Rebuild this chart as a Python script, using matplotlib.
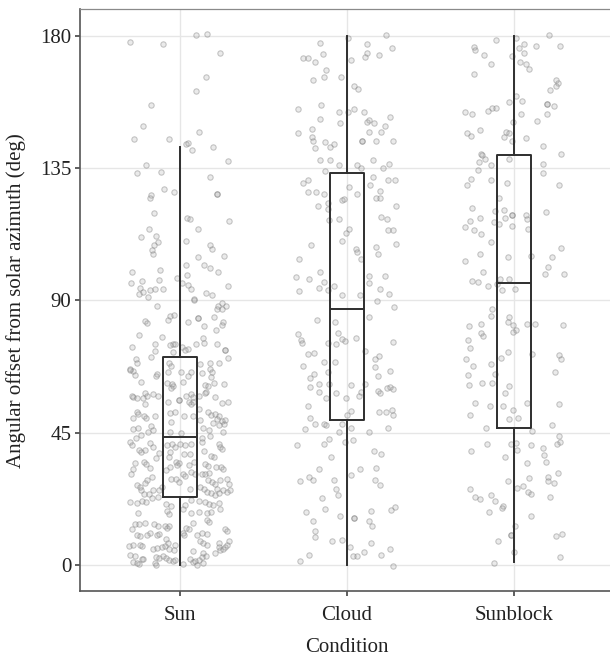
import numpy as np
import matplotlib
matplotlib.use("Agg")
import matplotlib.pyplot as plt

plt.rcParams['font.family'] = ['Liberation Serif', 'DejaVu Serif']

categories = ['Sun', 'Cloud', 'Sunblock']
y_ticks = [0, 45, 90, 135, 180]

# box statistics (deg)
box_q1 = [23.0, 49.2, 46.6]
box_med = [43.6, 86.9, 96.0]
box_q3 = [70.7, 133.2, 139.6]
box_lo = [0.0, 0.0, 0.9]
box_hi = [142.0, 180.0, 180.0]

# jittered observations: (horizontal jitter, angle in deg)
sun_points = [
    (-0.297, 178.0), (-0.10, 177.3), (0.096, 180.1), (0.164, 180.5), (0.238, 174.0), (0.154, 165.9),
    (0.098, 161.1), (-0.174, 156.5), (-0.22, 149.2), (-0.277, 145.0), (-0.068, 145.0), (0.116, 147.2),
    (0.036, 143.2), (0.05, 143.4), (0.072, 141.1), (0.198, 142.0), (0.29, 137.3), (-0.204, 136.1),
    (-0.255, 133.4), (-0.112, 133.8), (0.182, 132.0), (-0.096, 128.0), (-0.036, 127.0), (-0.174, 125.9),
    (-0.182, 124.8), (0.224, 126.1), (0.224, 126.1), (-0.154, 119.8), (0.044, 118.1), (0.062, 117.6),
    (0.293, 117.0), (0.106, 114.2), (-0.184, 114.3), (-0.232, 111.7), (-0.146, 111.9), (-0.13, 109.9),
    (-0.158, 109.0), (-0.17, 107.0), (-0.16, 105.8), (0.036, 110.1), (0.182, 108.9), (0.19, 107.6),
    (0.11, 104.8), (0.263, 105.2), (-0.285, 99.8), (-0.118, 100.2), (0.036, 102.2), (0.144, 101.9),
    (0.182, 100.9), (0.228, 99.8), (0.042, 98.8), (-0.226, 96.7), (-0.126, 96.9), (-0.016, 97.5),
    (0.012, 95.8), (-0.291, 95.9), (0.05, 95.1), (0.064, 94.0), (0.285, 95.0), (-0.24, 94.3),
    (-0.224, 92.8), (-0.246, 92.0), (-0.19, 91.3), (-0.18, 93.4), (-0.148, 93.75), (-0.1, 93.75),
    (0.154, 92.6), (0.19, 91.9), (0.086, 90.6),
    (-0.136, 88.1), (0.084, 90.0), (0.23, 88.1), (0.22, 87.2), (0.25, 89.0), (0.275, 88.2), (0.25, 87.0),
    (-0.06, 84.7), (-0.036, 84.9), (-0.072, 83.3), (-0.21, 83.1), (-0.2, 82.2), (0.11, 84.0), (0.11, 84.0),
    (0.048, 82.6), (0.146, 81.3), (0.206, 84.4), (0.255, 82.7), (0.25, 81.7), (0.214, 79.9), (-0.248, 78.2),
    (-0.108, 77.6), (0.136, 77.2), (-0.287, 74.2), (-0.148, 75.2), (-0.058, 74.7), (-0.044, 75.1),
    (-0.032, 75.3), (0.096, 75.1), (0.144, 75.6), (0.224, 75.3), (0.012, 74.0), (0.028, 73.1), (0.048, 73.3),
    (-0.148, 72.7), (-0.04, 72.4), (0.267, 73.1), (0.267, 73.1), (0.29, 70.3), (-0.263, 69.9), (-0.255, 68.75),
    (-0.172, 70.8), (0.18, 68.75), (0.236, 68.75), (-0.3, 66.8), (-0.068, 68.75), (-0.056, 67.6), (0.12, 68.2),
    (0.18, 66.8),
    (-0.28, 65.9), (-0.268, 64.7), (-0.3, 66.3), (-0.14, 64.9), (-0.144, 64.2), (-0.236, 62.2), (-0.072, 65.6),
    (0.004, 65.8), (0.048, 64.2), (0.064, 65.6), (0.02, 62.2), (-0.08, 61.9), (-0.048, 61.5), (-0.056, 60.1),
    (-0.04, 61.0), (0.132, 65.3), (0.19, 65.6), (0.188, 64.0), (0.152, 61.3), (0.168, 60.8), (0.204, 61.9),
    (0.156, 59.0), (0.263, 61.5), (-0.28, 57.2), (-0.26, 56.9), (-0.29, 57.4), (-0.208, 58.5), (-0.2, 57.4),
    (-0.224, 56.9), (-0.164, 58.1), (-0.21, 54.9), (-0.132, 57.4), (-0.072, 55.6), (-0.008, 56.0),
    (-0.008, 56.0), (0.036, 57.6), (0.068, 58.3), (0.076, 57.2), (0.056, 55.6), (0.08, 55.3), (0.068, 54.7),
    (0.112, 57.6), (0.152, 58.5), (0.208, 57.2), (0.25, 55.1), (0.29, 55.3), (0.116, 53.1), (-0.26, 51.9),
    (-0.28, 50.1), (-0.252, 51.3), (-0.216, 50.6), (-0.204, 49.9), (-0.148, 50.8), (-0.06, 51.7),
    (-0.032, 52.2), (-0.056, 48.5), (0.024, 50.6), (0.076, 50.6), (0.12, 49.4), (0.17, 51.9), (0.188, 51.0),
    (0.208, 51.5), (0.232, 50.8), (0.22, 49.7), (0.25, 49.0), (0.263, 47.8), (0.27, 49.4), (0.2, 48.3),
    (0.236, 47.6), (-0.283, 46.3), (-0.252, 46.5), (-0.176, 47.4), (-0.164, 45.8), (-0.192, 45.3),
    (-0.06, 45.1), (0.008, 44.9), (0.14, 46.5), (0.176, 46.0), (0.26, 45.3), (-0.236, 44.2), (-0.263, 43.1),
    (0.18, 44.0), (0.132, 43.1),
    (-0.3, 41.7), (-0.287, 40.8), (-0.248, 39.2), (-0.232, 38.5), (-0.212, 39.2), (-0.18, 41.5),
    (-0.164, 40.1), (-0.272, 34.7), (-0.216, 34.9), (-0.204, 34.4), (-0.28, 32.8), (-0.296, 31.0),
    (-0.18, 33.1), (-0.128, 38.1), (-0.144, 36.3), (-0.076, 40.8), (-0.048, 41.3), (-0.032, 40.3),
    (-0.06, 38.3), (-0.068, 36.9), (0.0, 41.3), (0.028, 40.8), (0.064, 41.0), (0.024, 37.8), (0.06, 37.6),
    (-0.024, 35.1), (-0.004, 34.7), (-0.016, 34.0), (-0.06, 33.5), (-0.084, 32.2), (0.052, 34.0),
    (0.084, 35.1), (0.132, 41.7), (0.144, 38.8), (0.184, 37.2), (0.204, 36.7), (0.232, 41.3), (0.24, 40.1),
    (0.25, 39.4), (0.148, 34.4), (0.168, 33.8), (0.216, 33.5), (0.248, 33.3), (0.26, 32.8), (0.132, 31.0),
    (0.152, 30.8), (0.176, 31.3), (0.016, 31.0), (0.032, 30.3), (0.064, 31.7), (0.088, 30.8),
    (-0.056, 29.4), (-0.024, 29.2), (-0.004, 28.1), (-0.2, 29.0), (-0.212, 27.8), (-0.168, 29.9),
    (-0.256, 27.2), (-0.24, 26.7), (-0.108, 26.7), (-0.128, 25.6), (-0.16, 25.6), (-0.188, 24.2),
    (-0.216, 24.0), (-0.232, 25.6), (0.168, 29.0), (0.192, 28.1), (0.212, 27.6), (0.24, 28.8),
    (0.279, 29.2), (0.291, 27.4), (0.12, 26.5), (0.144, 25.8), (0.164, 24.9), (0.224, 25.8), (0.255, 25.6),
    (0.279, 24.9), (0.299, 25.6), (0.188, 24.4), (0.212, 23.8), (0.236, 24.4), (0.06, 26.0), (-0.3, 21.5),
    (-0.256, 21.0), (-0.228, 21.7), (-0.204, 21.5), (-0.168, 22.8), (-0.132, 23.1), (-0.084, 20.8),
    (-0.056, 19.9), (0.064, 22.2), (0.112, 21.9), (0.152, 21.3), (0.176, 20.8), (0.196, 20.3), (0.232, 21.0),
    (0.24, 19.2), (0.032, 20.3), (0.02, 19.2),
    (-0.252, 17.8), (-0.08, 18.5), (-0.064, 17.2), (0.064, 17.6), (0.116, 18.1), (0.16, 17.8), (0.188, 18.1),
    (0.164, 15.3), (0.172, 14.7), (-0.272, 13.8), (-0.248, 13.8), (-0.208, 14.2), (-0.288, 12.2),
    (-0.156, 14.0), (-0.132, 13.3), (-0.092, 13.1), (-0.076, 12.6), (-0.064, 13.1), (0.076, 14.2),
    (0.036, 12.6), (0.052, 12.2), (0.271, 12.4), (0.283, 11.5), (-0.18, 11.0), (-0.2, 10.1), (-0.256, 10.1),
    (-0.24, 9.9), (-0.14, 10.3), (-0.124, 10.6), (-0.084, 9.0), (-0.072, 7.6), (0.016, 11.0), (0.024, 10.3),
    (0.104, 10.3), (0.132, 10.8), (0.16, 10.6), (0.12, 8.1), (0.14, 7.4), (0.164, 6.9), (0.232, 7.6),
    (0.291, 8.1), (0.283, 6.9), (0.271, 6.0), (-0.307, 6.5), (-0.28, 6.7), (-0.24, 6.7), (-0.228, 6.5),
    (-0.164, 5.6), (-0.136, 5.8), (-0.108, 6.0), (-0.092, 6.3), (-0.068, 5.6), (-0.032, 6.9), (-0.036, 5.1),
    (0.076, 4.9), (0.232, 6.0), (0.24, 5.1), (0.259, 5.6), (0.212, 4.0), (0.14, 4.0), (0.156, 3.1),
    (-0.3, 3.5), (-0.268, 3.1), (-0.228, 1.9), (-0.224, 2.2), (-0.144, 2.8), (-0.128, 2.4), (-0.1, 3.1),
    (-0.084, 2.4), (-0.068, 1.7), (-0.044, 1.5), (-0.028, 1.7), (0.06, 1.9), (0.076, 1.0), (0.092, 1.5),
    (0.116, 1.7), (0.132, 2.8), (-0.28, 1.0), (-0.26, 0.6), (-0.248, 0.3), (-0.152, 0.6), (-0.144, 0.1),
    (0.016, 0.3), (0.1, 0.1), (0.136, 0.6),
]

cloud_points = [
    (-0.164, 177.5), (0.008, 179.2), (0.232, 180.2), (0.12, 177.3), (0.118, 174.3), (0.108, 172.7),
    (0.192, 173.3), (0.27, 175.9), (-0.142, 173.9), (-0.261, 172.5), (-0.232, 172.5), (-0.19, 170.9),
    (0.026, 171.9), (-0.128, 168.4), (-0.202, 164.8), (-0.136, 165.9), (-0.038, 165.9), (0.04, 163.0),
    (0.066, 161.8), (-0.295, 155.1), (-0.158, 156.5), (-0.162, 151.8), (-0.048, 154.1), (-0.042, 150.2),
    (0.004, 154.2), (0.044, 155.0), (0.102, 154.1), (0.122, 150.7), (0.132, 151.4), (0.16, 150.3),
    (0.255, 152.4), (0.226, 149.4), (-0.295, 146.8), (-0.208, 148.2), (-0.208, 145.5), (-0.202, 144.1),
    (-0.19, 141.8), (-0.132, 143.9), (-0.1, 142.3), (-0.078, 143.3), (0.092, 144.3), (0.092, 144.3),
    (0.134, 147.3), (0.176, 144.1), (0.206, 147.2), (0.275, 144.3), (-0.16, 137.7), (-0.1, 137.7),
    (-0.048, 135.9), (-0.132, 134.1), (0.058, 135.9), (0.086, 135.0), (0.158, 137.8), (0.214, 135.0),
    (0.251, 136.4), (-0.261, 129.9), (-0.236, 131.0), (-0.232, 126.9), (-0.184, 126.7), (-0.136, 126.3),
    (0.012, 128.5), (0.058, 126.3), (0.158, 132.0), (0.136, 129.4), (0.196, 127.2), (0.246, 130.8),
    (0.285, 131.0), (0.174, 124.8), (0.2, 124.8), (-0.032, 124.0), (-0.02, 124.4), (-0.174, 122.2),
    (-0.114, 123.1), (-0.116, 121.0), (0.295, 122.2), (-0.108, 117.3), (-0.046, 117.6), (0.202, 118.3),
    (0.238, 117.8), (0.012, 114.4), (-0.006, 113.0), (-0.03, 110.3), (0.246, 113.8), (0.273, 113.8),
    (-0.214, 108.9), (0.054, 107.5), (0.058, 106.6), (0.174, 108.2), (0.188, 105.9), (0.295, 109.2),
    (0.082, 104.2), (-0.285, 104.1), (-0.305, 98.1), (-0.289, 93.3), (-0.226, 97.2), (-0.164, 99.8),
    (-0.14, 96.3), (-0.168, 94.2), (-0.112, 93.4), (-0.08, 94.9), (-0.032, 91.9), (0.078, 91.9),
    (0.134, 98.3), (0.132, 96.0), (0.23, 98.3), (0.2, 94.0), (0.251, 92.2),
    (0.178, 89.8), (0.281, 87.8), (0.13, 84.4), (-0.182, 83.3), (-0.072, 82.5), (-0.295, 78.4),
    (-0.273, 76.5), (-0.269, 75.6), (-0.052, 78.9), (-0.03, 77.0), (-0.01, 76.3), (-0.066, 75.2),
    (-0.116, 75.5), (0.056, 77.3), (-0.236, 71.9), (-0.198, 72.2), (0.275, 75.8), (0.11, 72.8),
    (-0.261, 67.8), (-0.136, 69.0), (-0.072, 69.1), (0.192, 71.0), (0.166, 69.9), (0.17, 67.2),
    (0.259, 66.0), (-0.116, 65.8), (-0.222, 63.6), (-0.196, 64.8), (0.184, 64.3), (-0.222, 60.6),
    (-0.17, 61.5), (-0.106, 61.7), (0.024, 61.1), (0.106, 61.6), (0.186, 59.2), (0.2, 58.6), (0.24, 60.2),
    (0.257, 60.5), (0.275, 59.7), (-0.168, 59.0), (-0.128, 56.9), (-0.064, 58.6), (-0.008, 56.8),
    (0.07, 57.4), (0.086, 59.0), (-0.236, 54.1), (-0.222, 49.9), (-0.19, 48.0), (-0.138, 48.0),
    (-0.124, 47.5), (-0.253, 46.1), (0.002, 51.1), (0.022, 52.3), (-0.028, 48.1), (0.024, 46.7),
    (0.19, 52.2), (0.234, 52.0), (0.271, 52.7), (0.273, 51.1), (0.245, 46.5), (0.13, 45.2), (-0.046, 45.1),
    (-0.299, 40.7), (-0.14, 41.3), (-0.108, 42.8), (-0.01, 41.7), (0.034, 42.5), (0.16, 38.8), (0.202, 37.8),
    (-0.094, 36.9), (-0.168, 32.8), (0.078, 32.6), (0.176, 33.0), (0.022, 30.6), (-0.281, 28.6),
    (-0.228, 30.0), (-0.202, 28.9), (-0.076, 28.8), (0.168, 28.8), (0.196, 27.3), (-0.068, 25.9),
    (-0.056, 23.9), (-0.152, 22.7), (-0.132, 19.1), (-0.246, 18.0), (0.04, 15.9), (0.04, 15.9),
    (-0.042, 16.7), (0.146, 18.5), (0.263, 18.6), (0.285, 19.8), (-0.202, 15.1), (0.13, 14.9), (0.148, 13.3),
    (-0.19, 11.7), (-0.19, 9.5), (-0.088, 8.2), (-0.032, 8.6), (0.142, 7.6), (-0.23, 3.5), (-0.281, 1.3),
    (0.018, 6.1), (0.034, 3.0), (0.058, 3.0), (0.104, 4.5), (0.204, 3.4), (0.259, 5.6), (0.277, -0.2),
]

sunblock_points = [
    (-0.11, 178.7), (0.012, 179.2), (0.21, 180.2), (-0.242, 176.3), (-0.232, 175.0), (-0.18, 173.3),
    (-0.14, 170.5), (-0.24, 167.0), (0.028, 175.8), (0.062, 177.3), (0.06, 174.2), (-0.01, 173.0),
    (0.132, 176.4), (0.275, 176.5), (0.036, 170.9), (0.074, 170.5), (0.088, 168.8), (0.251, 165.1),
    (0.265, 163.9), (0.251, 163.0), (0.218, 161.4), (0.014, 159.4), (-0.028, 157.4), (0.05, 157.8),
    (0.2, 156.9), (0.2, 156.9), (0.238, 156.0), (-0.291, 153.9), (-0.253, 153.3), (-0.156, 154.3),
    (-0.132, 155.3), (-0.106, 155.3), (0.04, 153.3), (0.2, 153.3), (0.14, 151.1), (-0.004, 150.8),
    (-0.279, 146.9), (-0.259, 145.9), (-0.206, 147.8), (-0.05, 147.3), (-0.028, 147.0), (-0.06, 145.5),
    (-0.01, 144.2), (0.07, 145.2), (0.176, 142.4), (0.281, 139.9), (-0.196, 139.7), (-0.19, 139.3),
    (-0.21, 136.9), (-0.176, 138.1), (-0.136, 136.0), (-0.032, 138.1), (0.176, 136.3), (0.176, 133.2),
    (-0.214, 134.3), (-0.255, 131.3), (-0.279, 129.3), (-0.136, 131.0), (-0.04, 129.9), (0.271, 129.4),
    (-0.088, 124.8), (-0.253, 121.5), (-0.116, 120.3), (-0.06, 120.8), (-0.014, 119.2), (-0.014, 119.2),
    (0.07, 119.0), (0.08, 117.8), (0.192, 119.9), (-0.206, 118.1), (-0.263, 116.9), (-0.293, 115.1),
    (-0.238, 113.8), (-0.198, 112.5), (-0.118, 116.7), (-0.088, 116.1), (-0.056, 118.1), (-0.01, 115.3),
    (0.082, 114.2), (-0.138, 109.7), (-0.293, 103.4), (-0.206, 105.7), (-0.038, 104.9), (0.1, 105.0),
    (0.23, 104.8), (0.279, 107.8), (-0.188, 99.7), (0.202, 101.4), (0.188, 99.1), (0.299, 98.9),
    (-0.25, 96.7), (-0.218, 96.1), (-0.156, 94.9), (-0.104, 95.7), (-0.084, 97.4), (-0.028, 97.2),
    (-0.07, 93.6), (0.008, 93.75),
    (-0.13, 86.9), (-0.14, 84.7), (-0.269, 81.3), (-0.196, 81.8), (-0.196, 79.0), (-0.186, 77.8),
    (-0.03, 84.4), (-0.038, 82.8), (-0.006, 81.7), (0.012, 79.9), (-0.008, 79.1), (0.08, 82.0),
    (0.124, 81.8), (0.293, 81.7), (-0.273, 76.4), (-0.261, 73.9), (-0.289, 69.9), (-0.246, 67.8),
    (-0.14, 68.3), (-0.08, 70.3), (-0.038, 72.3), (0.108, 71.9), (0.267, 71.3), (0.279, 69.9), (0.248, 65.5),
    (-0.273, 64.7), (-0.269, 61.1), (-0.19, 61.8), (-0.134, 62.0), (-0.114, 65.1), (-0.056, 58.6),
    (-0.03, 61.0), (-0.232, 55.1), (-0.261, 51.1), (-0.144, 54.2), (-0.066, 54.1), (-0.004, 52.8),
    (0.08, 55.1), (0.269, 54.9), (-0.028, 49.8), (0.026, 49.9), (-0.17, 46.7), (0.228, 47.7), (0.108, 45.6),
    (0.267, 43.8), (0.275, 41.9), (0.257, 41.1), (-0.162, 41.1), (-0.255, 38.8), (-0.02, 41.0), (0.014, 41.4),
    (0.02, 39.2), (0.1, 40.8), (0.176, 39.7), (0.18, 37.4), (0.19, 35.0), (-0.054, 36.7), (0.076, 34.7),
    (0.265, 31.3), (-0.036, 28.6), (0.206, 30.0), (0.204, 28.6), (0.238, 27.8), (0.092, 29.7), (0.052, 27.0),
    (0.02, 26.1), (0.082, 24.7), (0.1, 24.0), (0.214, 23.1), (-0.263, 25.8), (-0.234, 23.0), (-0.202, 22.6),
    (-0.14, 23.8), (-0.116, 21.7), (-0.066, 19.9), (-0.07, 19.5), (-0.15, 18.1), (0.104, 16.5), (0.008, 13.4),
    (-0.02, 10.2), (-0.02, 10.2), (0.25, 9.7), (0.285, 10.7), (-0.094, 8.0), (-0.002, 4.4), (0.273, 2.7),
    (-0.12, 0.6),
]

groups = [sun_points, cloud_points, sunblock_points]

fig = plt.figure(figsize=(6.10, 6.58), dpi=100)
ax = fig.add_axes([0.1308, 0.1011, 0.876, 0.8848])

# jittered points
for i, pts in enumerate(groups):
    arr = np.array(pts)
    ax.scatter(i + 1 + arr[:, 0], arr[:, 1], s=15, facecolor=(0.6, 0.6, 0.6, 0.2),
               edgecolor=(0.5, 0.5, 0.5, 0.45), linewidths=0.75, zorder=2)

# boxplots from the read statistics
stats = []
for i in range(len(categories)):
    stats.append({'q1': box_q1[i], 'med': box_med[i], 'q3': box_q3[i],
                  'whislo': box_lo[i], 'whishi': box_hi[i], 'fliers': []})
line_kw = dict(color='#2e2e2e', linewidth=1.4)
ax.bxp(stats, positions=[1, 2, 3], widths=0.2, showfliers=False,
       boxprops=line_kw, whiskerprops=line_kw, medianprops=line_kw,
       capprops=dict(linewidth=0), zorder=3)

ax.set_xlim(0.4, 3.6)
ax.set_ylim(-9, 189)
ax.set_xticks([1, 2, 3])
ax.set_xticklabels(categories)
ax.set_yticks(y_ticks)
ax.grid(True, color='#e6e6e6', linewidth=1.0, zorder=0)
ax.set_axisbelow(True)

for side in ['left', 'bottom']:
    ax.spines[side].set_color('#555555')
    ax.spines[side].set_linewidth(1.2)
ax.spines['top'].set_color('#8a8a8a')
ax.spines['top'].set_linewidth(0.9)
ax.spines['right'].set_visible(False)

ax.tick_params(axis='both', length=3.5, width=1.1, color='#333333', labelsize=15,
               labelcolor='#222222', pad=2.5)
ax.tick_params(axis='x', pad=7)

ax.set_xlabel('Condition', fontsize=15, color='#222222', labelpad=9)
ax.set_ylabel('Angular offset from solar azimuth (deg)', fontsize=15, color='#222222', labelpad=10)

fig.savefig('out.png', dpi=100)
